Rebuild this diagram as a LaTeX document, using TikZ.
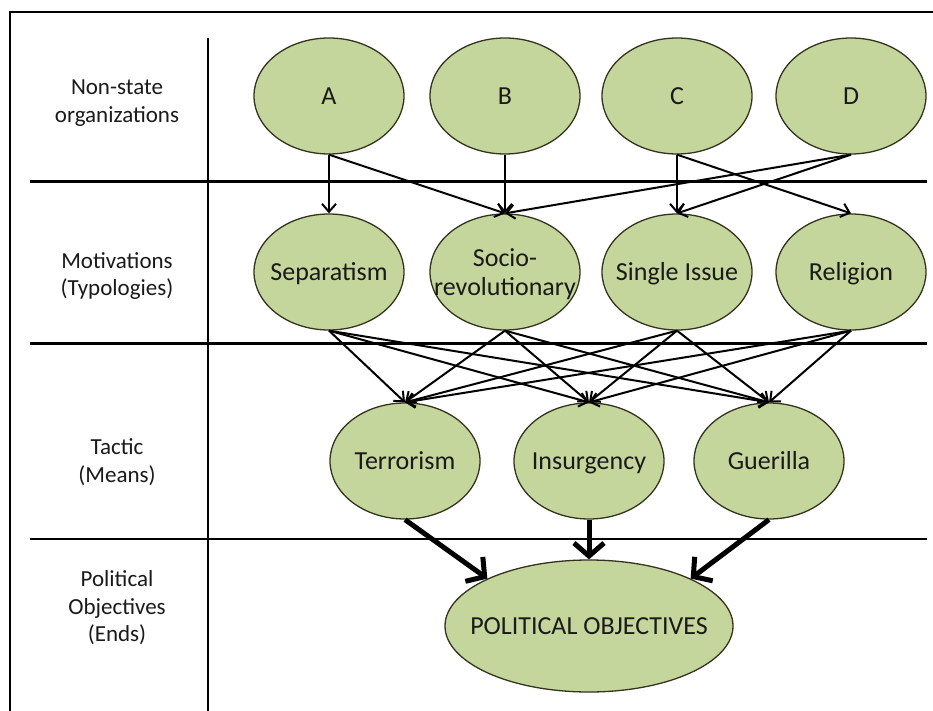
\documentclass[tikz,border=0pt]{standalone}
\usepackage{fontspec}
\setmainfont{Carlito}
\usetikzlibrary{arrows.meta,shapes.geometric}
\definecolor{ovalfill}{HTML}{C4D69B}
\definecolor{ovalline}{HTML}{33331F}
\definecolor{txt}{HTML}{1A1A1A}
\newcommand\zw[1]{\makebox[0pt][c]{\rule[-4.4pt]{0pt}{26.4pt}#1}}
\begin{document}
\begin{tikzpicture}[x=1pt,y=-1pt,
  oval/.style={ellipse, draw=ovalline, fill=ovalfill, line width=1.3pt, inner sep=0pt,
    minimum width=150pt, minimum height=116pt, text=txt,
    font=\fontsize{26}{29}\selectfont, align=center},
  lab/.style={align=center, text=txt, font=\fontsize{23}{27.5}\selectfont},
  rule/.style={line width=2.3pt, black},
  conn/.style={line width=2pt, black, -{Straight Barb[length=8pt,width=14pt]}},
  bigconn/.style={line width=5pt, black, -{Straight Barb[length=13pt,width=30pt]}}]
\useasboundingbox (0,0) rectangle (933,711);
\fill[white] (0,0) rectangle (933,711);

% frame and grid
\draw[rule] (10,711) -- (10,12) -- (933,12);
\draw[rule] (208,38) -- (208,711);
\draw[rule] (30,181.5) -- (927,181.5);
\draw[rule] (30,343.5) -- (927,343.5);
\draw[rule] (30,539) -- (927,539);

% row labels
\node[lab] (l1) at (117,103) {Non-state\\organizations};
\node[lab] (l2) at (117,276) {Motivations\\(Typologies)};
\node[lab] (l3) at (117,462) {Tactic\\(Means)};
\node[lab] (l4) at (117,608) {Political\\Objectives\\(Ends)};

% organizations
\node[oval] (A) at (329,96) {\zw{A}};
\node[oval] (B) at (505,96) {\zw{B}};
\node[oval] (C) at (677,96) {\zw{C}};
\node[oval] (D) at (851,96) {\zw{D}};

% motivations
\node[oval] (sep) at (329,272) {\zw{Separatism}};
\node[oval] (soc) at (505,272) {\zw{Socio-}\\\zw{revolutionary}};
\node[oval] (sing) at (677,272) {\zw{Single Issue}};
\node[oval] (rel) at (851,272) {\zw{Religion}};

% tactics
\node[oval] (ter) at (405,461) {\zw{Terrorism}};
\node[oval] (ins) at (589,461) {\zw{Insurgency}};
\node[oval] (gue) at (769,461) {\zw{Guerilla}};

% objectives
\node[oval, minimum width=288pt, minimum height=132pt] (po) at (589,626) {\zw{POLITICAL OBJECTIVES}};

% connectors
\draw[conn] (A.south) -- (sep.north);
\draw[conn] (A.south) -- (soc.north);
\draw[conn] (B.south) -- (soc.north);
\draw[conn] (C.south) -- (sing.north);
\draw[conn] (C.south) -- (rel.north);
\draw[conn] (D.south) -- (soc.north);
\draw[conn] (D.south) -- (sing.north);
\foreach \m in {sep,soc,sing,rel}{
  \foreach \t in {ter,ins,gue}{
    \draw[conn] (\m.south) -- (\t.north);
  }
}
\draw[bigconn] (ter.south) -- (po.155);
\draw[bigconn] (ins.south) -- (po.north);
\draw[bigconn] (gue.south) -- (po.25);
\end{tikzpicture}
\end{document}
